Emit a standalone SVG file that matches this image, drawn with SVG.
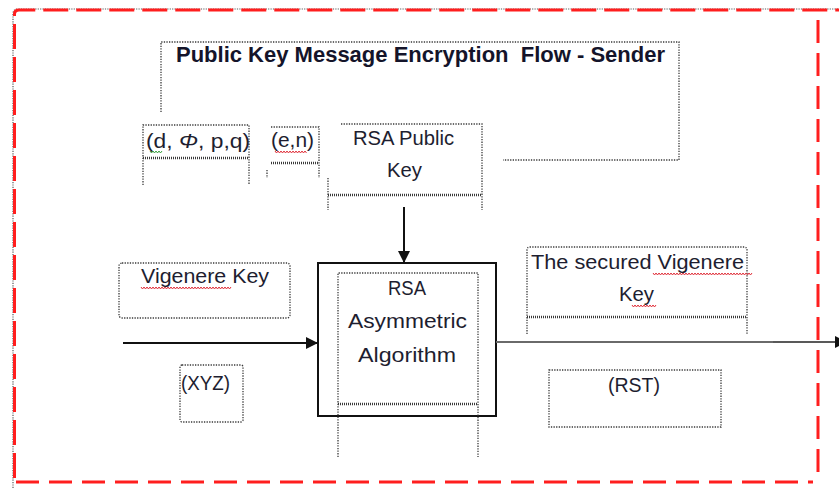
<svg xmlns="http://www.w3.org/2000/svg" width="839" height="489" viewBox="0 0 839 489">
  <style>
    .txt { font-family: "Liberation Sans", Arial, sans-serif; font-size: 20px; fill: #1e1e30; }
    .title { font-family: "Liberation Sans", Arial, sans-serif; font-size: 22px; font-weight: bold; fill: #14142a; }
    .dot { fill: none; stroke: #3a3a3a; stroke-width: 1.3; stroke-dasharray: 1.3 1.3; }
    .dbl { fill: none; stroke: #3a3a3a; stroke-width: 2.4; stroke-dasharray: 1 1; }
    .frameRed { fill: none; stroke: #ff1e1e; stroke-width: 3; }
    .frameDot { fill: none; stroke: #5a5a5a; stroke-width: 1.2; stroke-dasharray: 1.2 1.2; }
    .wire { fill: none; stroke: #111; stroke-width: 2; }
    .squigR { fill: none; stroke: #e0303a; stroke-width: 1; }
    .squigG { fill: none; stroke: #3aa040; stroke-width: 1; }
  </style>
  <defs>
    <marker id="head" viewBox="0 0 12 12" refX="12" refY="6" markerWidth="12" markerHeight="12" markerUnits="userSpaceOnUse" orient="auto">
      <path d="M0,0 L12,6 L0,12 Z" fill="#111"/>
    </marker>
  </defs>

  <rect width="839" height="489" fill="#ffffff"/>

  <!-- outer sender frame -->
  <g id="frame">
    <path class="frameDot" d="M13,488 V14 Q13,9 18,9 H839"/>
    <path class="frameRed" d="M14.5,478 V14 Q14.5,10 19,10 H839" stroke-dasharray="25 8"/>
    <path class="frameRed" d="M16,482 H813" stroke-dasharray="23 10"/>
    <path class="frameRed" d="M818,20 V478" stroke-dasharray="23 10"/>
  </g>

  <!-- title -->
  <g id="title">
    <path class="dot" d="M161,112 V42 H679 V160 H503"/>
    <text class="title" x="176" y="62" textLength="489" lengthAdjust="spacingAndGlyphs" xml:space="preserve">Public Key Message Encryption  Flow - Sender</text>
  </g>

  <!-- private key parameters -->
  <g id="private-params">
    <path class="dot" d="M143,185 V125 H249 V185"/>
    <line class="dbl" x1="143" y1="158" x2="249" y2="158"/>
    <text class="txt" x="146" y="148" textLength="104" lengthAdjust="spacingAndGlyphs">(d, <tspan font-style="italic">Φ</tspan>, p,q)</text>
    <path class="squigG" d="M150,151 l1.5,2 l1.5,-2 l1.5,2 l1.5,-2 l1.5,2 l1.5,-2 l1.5,2 l1.5,-2"/>
  </g>

  <!-- public key pair -->
  <g id="public-pair">
    <path class="dot" d="M271,127 H319 V178"/>
    <line class="dbl" x1="271" y1="163" x2="319" y2="163"/>
    <line class="dot" x1="267" y1="170" x2="267" y2="178"/>
    <text class="txt" x="271" y="147" textLength="43" lengthAdjust="spacingAndGlyphs">(e,n)</text>
    <path class="squigR" d="M275,151 l1.5,2 l1.5,-2 l1.5,2 l1.5,-2 l1.5,2 l1.5,-2 l1.5,2 l1.5,-2 l1.5,2 l1.5,-2 l1.5,2 l1.5,-2 l1.5,2 l1.5,-2 l1.5,2 l1.5,-2 l1.5,2 l1.5,-2 l1.5,2 l1.5,-2 l1.5,2"/>
  </g>

  <!-- RSA public key -->
  <g id="rsa-public-key">
    <path class="dot" d="M341,124 H482 V210"/>
    <line class="dot" x1="328" y1="178" x2="328" y2="210"/>
    <line class="dbl" x1="328" y1="195" x2="482" y2="195"/>
    <text class="txt" x="353" y="145" textLength="101" lengthAdjust="spacingAndGlyphs">RSA Public</text>
    <text class="txt" x="387" y="177" textLength="35" lengthAdjust="spacingAndGlyphs">Key</text>
  </g>

  <!-- RSA algorithm -->
  <g id="rsa-algorithm">
    <rect x="318" y="263" width="178" height="153" fill="none" stroke="#111" stroke-width="2"/>
    <path class="dot" d="M338,457 V273 H478 V457"/>
    <line class="dbl" x1="338" y1="404" x2="478" y2="404"/>
    <text class="txt" x="388" y="295" textLength="38" lengthAdjust="spacingAndGlyphs">RSA</text>
    <text class="txt" x="348" y="328" textLength="119" lengthAdjust="spacingAndGlyphs">Asymmetric</text>
    <text class="txt" x="358" y="362" textLength="98" lengthAdjust="spacingAndGlyphs">Algorithm</text>
  </g>

  <!-- Vigenere key input -->
  <g id="vigenere-key">
    <rect class="dot" x="119" y="263" width="171" height="55" rx="3"/>
    <text class="txt" x="141" y="283" textLength="128" lengthAdjust="spacingAndGlyphs">Vigenere Key</text>
    <path class="squigR" d="M141,287 l1.5,2 l1.5,-2 l1.5,2 l1.5,-2 l1.5,2 l1.5,-2 l1.5,2 l1.5,-2 l1.5,2 l1.5,-2 l1.5,2 l1.5,-2 l1.5,2 l1.5,-2 l1.5,2 l1.5,-2 l1.5,2 l1.5,-2 l1.5,2 l1.5,-2 l1.5,2 l1.5,-2 l1.5,2 l1.5,-2 l1.5,2 l1.5,-2 l1.5,2 l1.5,-2 l1.5,2 l1.5,-2 l1.5,2 l1.5,-2 l1.5,2 l1.5,-2 l1.5,2 l1.5,-2 l1.5,2 l1.5,-2 l1.5,2 l1.5,-2 l1.5,2 l1.5,-2 l1.5,2 l1.5,-2 l1.5,2 l1.5,-2 l1.5,2 l1.5,-2 l1.5,2 l1.5,-2 l1.5,2 l1.5,-2 l1.5,2 l1.5,-2 l1.5,2 l1.5,-2 l1.5,2 l1.5,-2 l1.5,2 l1.5,-2"/>
  </g>

  <g id="xyz">
    <rect class="dot" x="180" y="365" width="63" height="57" rx="2"/>
    <text class="txt" x="181" y="390" textLength="49" lengthAdjust="spacingAndGlyphs">(XYZ)</text>
  </g>

  <!-- encrypted key output -->
  <g id="secured-key">
    <path class="dot" d="M527,334 V250 Q527,247 530,247 H744 Q747,247 747,250 V334"/>
    <line class="dbl" x1="527" y1="317" x2="747" y2="317"/>
    <text class="txt" x="531" y="269" textLength="213" lengthAdjust="spacingAndGlyphs">The secured Vigenere</text>
    <text class="txt" x="619" y="301" textLength="35" lengthAdjust="spacingAndGlyphs">Key</text>
    <path class="squigR" d="M653,273 l1.5,2 l1.5,-2 l1.5,2 l1.5,-2 l1.5,2 l1.5,-2 l1.5,2 l1.5,-2 l1.5,2 l1.5,-2 l1.5,2 l1.5,-2 l1.5,2 l1.5,-2 l1.5,2 l1.5,-2 l1.5,2 l1.5,-2 l1.5,2 l1.5,-2 l1.5,2 l1.5,-2 l1.5,2 l1.5,-2 l1.5,2 l1.5,-2 l1.5,2 l1.5,-2 l1.5,2 l1.5,-2 l1.5,2 l1.5,-2 l1.5,2 l1.5,-2 l1.5,2 l1.5,-2 l1.5,2 l1.5,-2 l1.5,2 l1.5,-2 l1.5,2 l1.5,-2 l1.5,2 l1.5,-2 l1.5,2 l1.5,-2 l1.5,2 l1.5,-2 l1.5,2 l1.5,-2 l1.5,2 l1.5,-2 l1.5,2 l1.5,-2 l1.5,2 l1.5,-2 l1.5,2 l1.5,-2 l1.5,2 l1.5,-2 l1.5,2 l1.5,-2 l1.5,2 l1.5,-2 l1.5,2 l1.5,-2"/>
    <path class="squigR" d="M632,305 l1.5,2 l1.5,-2 l1.5,2 l1.5,-2 l1.5,2 l1.5,-2 l1.5,2 l1.5,-2 l1.5,2 l1.5,-2 l1.5,2 l1.5,-2 l1.5,2 l1.5,-2 l1.5,2 l1.5,-2"/>
  </g>

  <g id="rst">
    <rect class="dot" x="549" y="370" width="172" height="57"/>
    <text class="txt" x="608" y="392" textLength="52" lengthAdjust="spacingAndGlyphs">(RST)</text>
  </g>

  <!-- connectors -->
  <g id="connectors">
    <line class="wire" x1="404" y1="207" x2="404" y2="263" marker-end="url(#head)"/>
    <line class="wire" x1="123" y1="343" x2="318" y2="343" marker-end="url(#head)"/>
    <line x1="496" y1="342" x2="773" y2="342" stroke="#6a6a6a" stroke-width="2"/>
    <line x1="773" y1="342" x2="835" y2="342" stroke="#222" stroke-width="1.5"/>
    <path d="M835,336 L847,342 L835,348 Z" fill="#111"/>
  </g>
</svg>
